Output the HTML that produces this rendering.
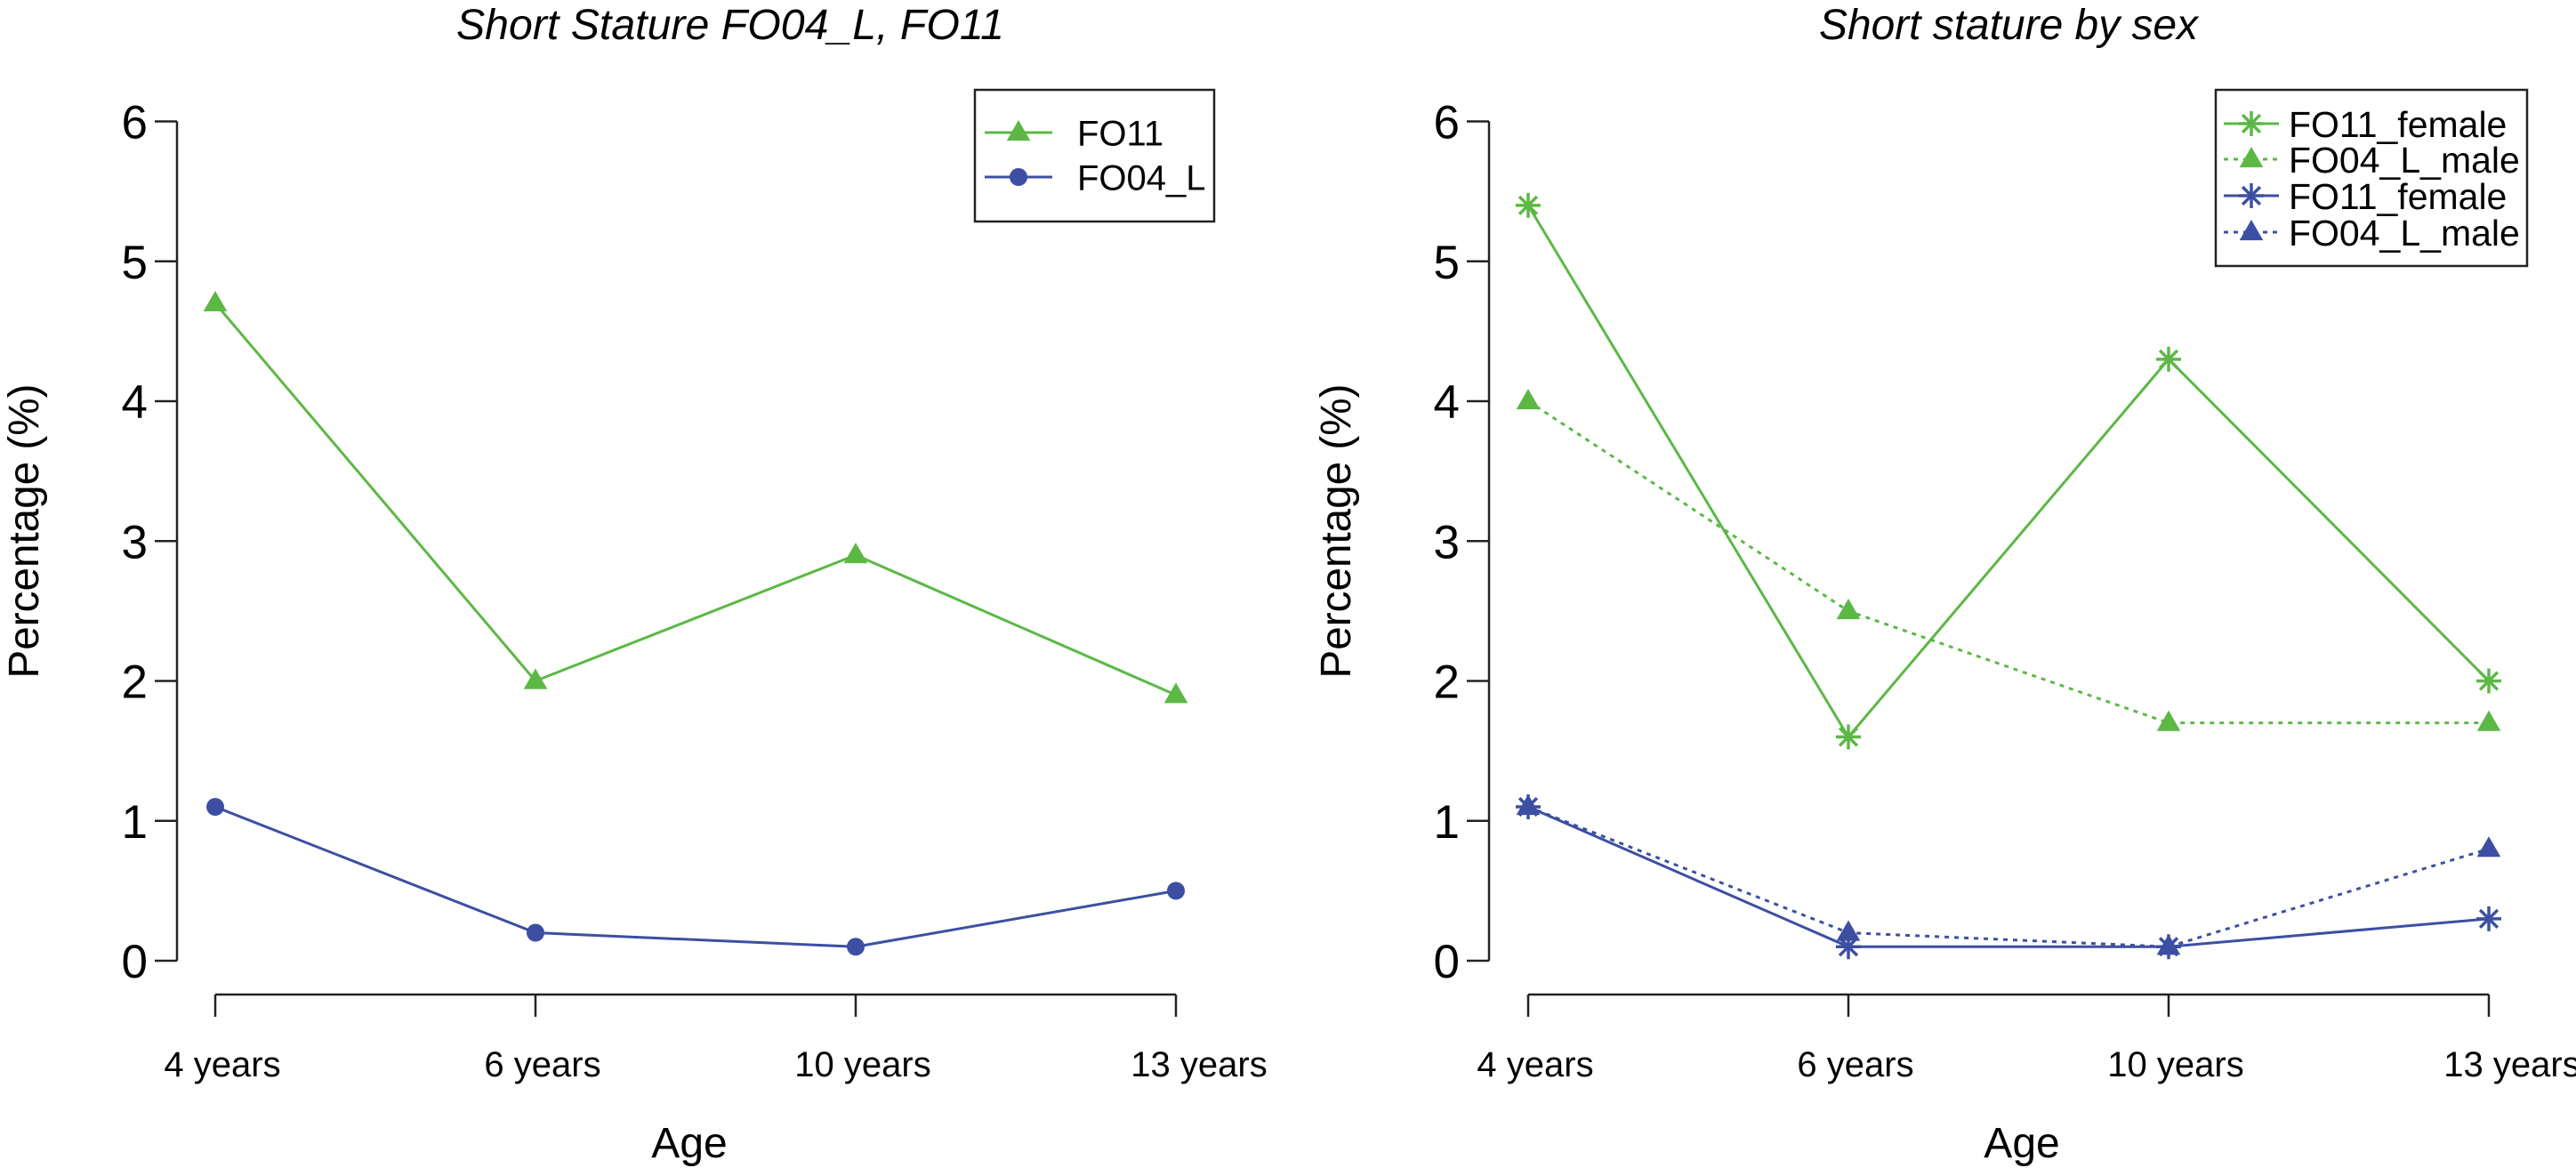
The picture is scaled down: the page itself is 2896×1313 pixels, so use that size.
<!DOCTYPE html>
<html><head><meta charset="utf-8"><style>
html,body{margin:0;padding:0;background:#fff;}
svg{display:block;font-family:"Liberation Sans",sans-serif;}
</style></head><body>
<svg id="fig" width="2896" height="1313" viewBox="0 0 2896 1313" xmlns="http://www.w3.org/2000/svg"></svg>
<script>
const categories = ["4 years","6 years","10 years","13 years"];
const yTicks = [0,1,2,3,4,5,6];
const leftFO11 = [4.7,2.0,2.9,1.9];
const leftFO04L = [1.1,0.2,0.1,0.5];
const rightGreenFemale = [5.4,1.6,4.3,2.0];
const rightGreenMale = [4.0,2.5,1.7,1.7];
const rightBlueFemale = [1.1,0.1,0.1,0.3];
const rightBlueMale = [1.1,0.2,0.1,0.8];

const NS="http://www.w3.org/2000/svg";
const svg=document.getElementById('fig');
const GREEN="#5cb845", BLUE="#3c4fa3";
function mk(tag,attrs,parent){const e=document.createElementNS(NS,tag);for(const k in attrs)e.setAttribute(k,attrs[k]);(parent||svg).appendChild(e);return e;}
function yScale(v){return 1080-v*157.25;}
function makeX(x0){return i=>x0+i*360;}

function marker(g,type,x,y,color){
  if(type==='tri'){
    const r=14;
    const p=mk('polygon',{points:`${x},${y-r} ${x-r*0.95},${y+r*0.65} ${x+r*0.95},${y+r*0.65}`,fill:color},g);
    
    
  } else if(type==='dot'){
    const c=mk('circle',{cx:x,cy:y,r:10,fill:color},g);
    
    
  } else {
    const s=mk('g',{stroke:color,'stroke-width':3.5},g);
    
    
    const r=14;
    for(const a of [0,45,90,135]){const rad=a*Math.PI/180;
      mk('line',{x1:x-r*Math.cos(rad),y1:y-r*Math.sin(rad),x2:x+r*Math.cos(rad),y2:y+r*Math.sin(rad)},s);}
  }
}
function series(g,vals,xs,color,type,dash,name){
  const sg=mk('g',{},g);
  
  
  const pts=vals.map((v,i)=>`${xs(i)},${yScale(v)}`).join(' ');
  const a={points:pts,fill:'none',stroke:color,'stroke-width':3};
  if(dash)a['stroke-dasharray']='5 6';
  mk('polyline',a,sg);
  vals.forEach((v,i)=>marker(sg,type,xs(i),yScale(v),color));
}
function panel(name,axisX,x0,title,titleX,titleLen,ytitleX,ageX){
  const g=mk('g',{});
  
  
  const xs=makeX(x0);
  const ya=mk('g',{stroke:'#222','stroke-width':2.5},g);
  
  
  mk('line',{x1:axisX,y1:yScale(0),x2:axisX,y2:yScale(6)},ya);
  yTicks.forEach(t=>{
    mk('line',{x1:axisX-25,y1:yScale(t),x2:axisX,y2:yScale(t)},ya);
    const tx=mk('text',{x:axisX-33,y:yScale(t)+19,'text-anchor':'end','font-size':53,fill:'#000',stroke:'none'},g);
    tx.textContent=t;
    
    
  });
  const xa=mk('g',{stroke:'#222','stroke-width':2.5},g);
  
  
  mk('line',{x1:xs(0),y1:1118,x2:xs(3),y2:1118},xa);
  categories.forEach((c,i)=>{
    mk('line',{x1:xs(i),y1:1118,x2:xs(i),y2:1143},xa);
    const tx=mk('text',{x:xs(i)+(i===3?26:8),y:1210,'text-anchor':'middle','font-size':40,fill:'#000',stroke:'none'},g);
    tx.textContent=c;
    
    
  });
  const t=mk('text',{x:titleX,y:44,'text-anchor':'middle','font-size':48,'font-style':'italic',fill:'#000',textLength:titleLen,lengthAdjust:'spacingAndGlyphs'},g);
  t.textContent=title;
  
  
  const yt=mk('text',{x:ytitleX,y:597,'text-anchor':'middle','font-size':48,fill:'#000',textLength:331,lengthAdjust:'spacingAndGlyphs',transform:`rotate(-90 ${ytitleX} 597)`},g);
  yt.textContent="Percentage (%)";
  
  
  const xt=mk('text',{x:ageX,y:1301,'text-anchor':'middle','font-size':48,fill:'#000'},g);
  xt.textContent="Age";
  
  
  return {g,xs};
}
function legend(g,box,entries,lx1,lx2,tx,fs,name){
  const lg=mk('g',{},g);
  
  
  mk('rect',{x:box[0],y:box[1],width:box[2]-box[0],height:box[3]-box[1],fill:'#fff',stroke:'#222','stroke-width':2.5},lg);
  entries.forEach(e=>{
    const eg=mk('g',{},lg);
    
    
    const a={x1:lx1,y1:e.y,x2:lx2,y2:e.y,stroke:e.color,'stroke-width':3};
    if(e.dash)a['stroke-dasharray']='5 6';
    mk('line',a,eg);
    marker(eg,e.type,(lx1+lx2)/2,e.y,e.color);
    const t=mk('text',{x:tx,y:e.y+fs*0.36,'font-size':fs,fill:'#000'},eg);
    t.textContent=e.label;
  });
}
const L=panel('left-chart',199,242,'Short Stature FO04_L, FO11',821,616,43,775);
series(L.g,leftFO11,L.xs,GREEN,'tri',false,'series-fo11');
series(L.g,leftFO04L,L.xs,BLUE,'dot',false,'series-fo04-l');
legend(L.g,[1096,101,1365,249],[
  {y:149,color:GREEN,type:'tri',label:'FO11'},
  {y:199,color:BLUE,type:'dot',label:'FO04_L'}],1107,1183,1211,40,'left-legend');

const R=panel('right-chart',1674,1718,'Short stature by sex',2258,426,1518,2273);
series(R.g,rightGreenFemale,R.xs,GREEN,'star',false,'series-green-female');
series(R.g,rightGreenMale,R.xs,GREEN,'tri',true,'series-green-male');
series(R.g,rightBlueFemale,R.xs,BLUE,'star',false,'series-blue-female');
series(R.g,rightBlueMale,R.xs,BLUE,'tri',true,'series-blue-male');
legend(R.g,[2491,101,2841,299],[
  {y:139,color:GREEN,type:'star',label:'FO11_female'},
  {y:179,color:GREEN,type:'tri',dash:true,label:'FO04_L_male'},
  {y:220,color:BLUE,type:'star',label:'FO11_female'},
  {y:261,color:BLUE,type:'tri',dash:true,label:'FO04_L_male'}],2500,2562,2573,41,'right-legend');
</script>
</body></html>
